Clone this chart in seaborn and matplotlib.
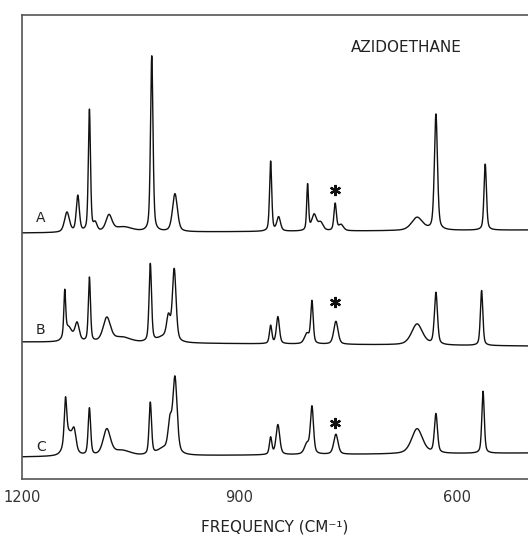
import numpy as np
import pandas as pd
import matplotlib
matplotlib.use("Agg")
import matplotlib.pyplot as plt
import seaborn as sns

# ---- data (positions in cm^-1, heights in arbitrary units) ----
# trace A
a_pos = [1138, 1123, 1107, 1099, 1080, 1060, 1021, 989, 857, 846, 806, 797, 788, 768, 760, 655, 629, 561]
a_hgt = [20, 36, 122, 8, 16, 5, 176, 38, 70, 14, 46, 16, 8, 27, 6, 13, 116, 66]
a_wid = [8, 5, 3.5, 6, 10, 30, 4, 8, 3.5, 6, 3, 8, 8, 4, 8, 18, 5, 4]
a_base = [246, 249]   # baseline at 1200 and at the right end

# trace B
b_pos = [1141, 1136, 1124, 1107, 1083, 1062, 1023, 1005, 998, 990, 857, 847, 807, 800, 767, 655, 629, 566]
b_hgt = [44, 14, 18, 64, 24, 5, 78, 5, 22, 72, 18, 27, 10, 42, 23, 21, 52, 55]
b_wid = [3, 12, 7, 3.5, 12, 28, 4, 20, 6, 6, 4, 5, 8, 4, 7, 18, 5, 4]
b_base = [137, 133]

# trace C
c_pos = [1140, 1135, 1128, 1107, 1083, 1062, 1023, 1005, 996, 989, 857, 847, 807, 800, 767, 655, 629, 564]
c_hgt = [44, 22, 17, 47, 26, 5, 52, 6, 28, 76, 17, 30, 10, 47, 20, 25, 39, 62]
c_wid = [4, 14, 6, 4, 12, 28, 4, 20, 6, 7, 4, 6, 8, 5, 7, 18, 5, 4]
c_base = [22, 26]

trace_names = ["A", "B", "C"]
label_y = [261, 149, 32]
star_freq = 768
star_y = [289, 177, 56]
xtick_vals = [1200, 1100, 1000, 900, 800, 700, 600]
xtick_labels = ["1200", "", "", "900", "", "", "600"]
title_text = "AZIDOETHANE"
xlabel_text = "FREQUENCY (CM\u207b\u00b9)"

X_LEFT, X_RIGHT = 1200, 502


def spectrum(x, pos, hgt, wid, base):
    y = base[0] + (base[1] - base[0]) * (X_LEFT - x) / (X_LEFT - X_RIGHT)
    for c, h, w in zip(pos, hgt, wid):
        d2 = 4 * (x - c) ** 2 / w ** 2
        y = y + h * (0.55 * np.exp(-np.log(2) * d2) + 0.45 / (1 + d2))
    return y


freq = np.linspace(X_LEFT, X_RIGHT, 4000)
frames = []
for name, p, h, w, b in [("A", a_pos, a_hgt, a_wid, a_base),
                         ("B", b_pos, b_hgt, b_wid, b_base),
                         ("C", c_pos, c_hgt, c_wid, c_base)]:
    frames.append(pd.DataFrame({"freq": freq, "intensity": spectrum(freq, p, h, w, b), "trace": name}))
df = pd.concat(frames, ignore_index=True)

sns.set_style("white")
plt.rcParams["font.family"] = ["DejaVu Sans"]

fig = plt.figure(figsize=(5.28, 5.36), dpi=100)
ax = fig.add_axes([22 / 528, 1 - 479 / 536, 1 - 22 / 528, (479 - 15) / 536])

sns.lineplot(data=df, x="freq", y="intensity", hue="trace", units="trace",
             estimator=None, palette=["#111111"] * 3, linewidth=1.0,
             legend=False, ax=ax, sort=False)

ax.set_xlim(X_LEFT, X_RIGHT)
ax.set_ylim(0, 464)
ax.set_yticks([])
ax.set_xticks(xtick_vals)
ax.set_xticklabels(xtick_labels, fontsize=10.5, color="#222222")
ax.tick_params(axis="x", direction="in", length=4, width=1, pad=8, colors="#333333")
ax.set_xlabel(xlabel_text, fontsize=11, color="#222222")
ax.xaxis.set_label_coords(0.5, -0.088)
ax.xaxis.label.set_va("top")
ax.set_ylabel("")

for s in ["left", "top", "bottom"]:
    ax.spines[s].set_color("#555555")
    ax.spines[s].set_linewidth(1.2)
ax.spines["right"].set_visible(False)

for name, ly in zip(trace_names, label_y):
    ax.text(1174, ly, name, fontsize=10, ha="center", va="center", color="#222222")

ax.plot([star_freq] * 3, star_y, linestyle="none", marker=(6, 2, 0),
        markersize=8, markeredgewidth=1.6, color="#111111")

ax.text(670, 432, title_text, fontsize=11, ha="center", va="center", color="#222222")

fig.savefig("out.png", dpi=100)
